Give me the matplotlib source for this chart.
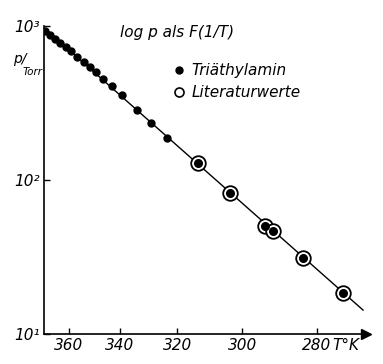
import matplotlib
matplotlib.use('Agg')

import numpy as np
import matplotlib.pyplot as plt
from matplotlib.lines import Line2D

# eigene Messwerte Triäthylamin (T in K, p in Torr)
T_mess = [370.2, 368.1, 365.9, 363.8, 361.2, 359.2, 356.7, 353.9, 351.5,
          349.1, 346.4, 343.0, 339.3, 333.8, 328.9, 323.4]
p_mess = [928, 874, 823, 776, 730, 688, 629, 584, 542,
          503, 453, 408, 356, 285, 234, 187]

# Literaturwerte
T_lit = [313.4, 303.6, 293.6, 291.4, 283.5, 273.5]
p_lit = [129, 82.3, 50.3, 46.6, 31.2, 18.5]

# Ausgleichsgerade, Endpunkte
T_fit = [371.1, 268.8]
p_fit = [985, 14.3]

T_ticks = [360, 340, 320, 300, 280]
p_ticks = [10, 100, 1000]
p_labels = [u'10\u00b9', u'10\u00b2', u'10\u00b3']

plt.rcParams['font.family'] = ['DejaVu Sans']
plt.rcParams['font.style'] = 'italic'

W, H = 383, 364
fig = plt.figure(figsize=(W / 100.0, H / 100.0), dpi=100)


def px(x, y):
    return x / float(W), 1 - y / float(H)


ax = fig.add_axes([44.0 / W, 30.0 / H, 322.0 / W, 308.0 / H])

inv = lambda T: 1000.0 / np.asarray(T, dtype=float)

ax.plot(inv(T_fit), p_fit, color='black', lw=1.0, zorder=2)
ax.plot(inv(T_mess), p_mess, 'o', color='black', ms=5, zorder=3)
ax.plot(inv(T_lit), p_lit, 'o', mfc='white', mec='black', mew=1.3, ms=10.5, zorder=4)
ax.plot(inv(T_lit), p_lit, 'o', color='black', ms=5.5, zorder=5)

ax.set_yscale('log')
ax.set_ylim(10, 1000)
ax.set_xlim(2.6977, 3.7297)

ax.set_xticks(inv(T_ticks))
ax.set_xticklabels([str(t) for t in T_ticks])
ax.set_yticks(p_ticks)
ax.set_yticklabels(p_labels)
ax.yaxis.set_minor_locator(matplotlib.ticker.NullLocator())
ax.tick_params(direction='in', length=4, width=1, labelsize=11, pad=3)

for s in ['top', 'right']:
    ax.spines[s].set_visible(False)
for s in ['left', 'bottom']:
    ax.spines[s].set_linewidth(1.2)

# Pfeil am Ende der T-Achse
ax.plot(1, 0, '>', color='black', ms=7, transform=ax.transAxes, clip_on=False)

fig.text(*px(332, 345), u'T°K', fontsize=11, va='center', ha='left')
fig.text(*px(120, 33), u'log p als F(1/T)', fontsize=11, va='center', ha='left')
fig.text(*px(13, 59), u'p/', fontsize=10, va='center', ha='left')
fig.text(*px(23, 72), u'Torr', fontsize=7.5, va='center', ha='left')

handles = [
    Line2D([], [], ls='none', marker='o', color='black', ms=5),
    Line2D([], [], ls='none', marker='o', mfc='white', mec='black', mew=1.2, ms=6.5),
]
ax.legend(handles, [u'Triäthylamin', u'Literaturwerte'], frameon=False,
          fontsize=11, loc='upper left', bbox_to_anchor=px(173, 63),
          bbox_transform=fig.transFigure, handlelength=0.8, handletextpad=0.4,
          labelspacing=0.45, borderpad=0, borderaxespad=0)

plt.savefig('out.png', dpi=100)
